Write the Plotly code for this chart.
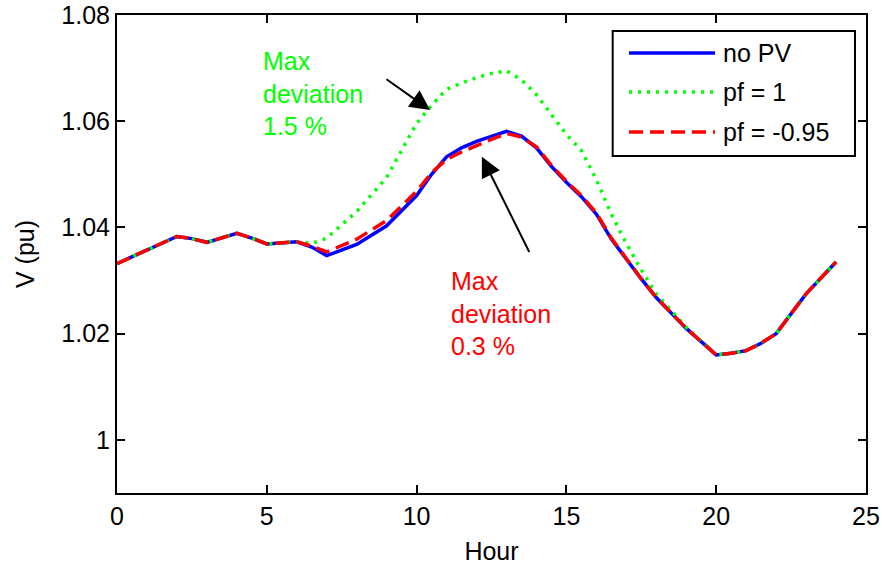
import plotly.graph_objects as go

# ---------------- data ----------------
hours = [0, 1, 2, 2.5, 3, 4, 4.5, 5, 5.5, 6,
         6.5, 7, 8, 9, 10,
         10.5, 11, 11.5, 12, 12.5,
         13, 13.5, 14, 14.5, 15,
         15.5, 16, 16.5, 17, 17.5,
         18, 19, 19.5, 20, 20.5,
         21, 21.5, 22, 23, 24]

v_nopv = [1.0332, 1.0358, 1.0383, 1.0379, 1.0372, 1.0389, 1.0380, 1.0369, 1.0371, 1.0373,
          1.0363, 1.0347, 1.0368, 1.0403, 1.0460,
          1.0500, 1.0533, 1.0550, 1.0562, 1.0572,
          1.0581, 1.0572, 1.0550, 1.0515, 1.0485,
          1.0458, 1.0425, 1.0378, 1.0340, 1.0303,
          1.0268, 1.0210, 1.0185, 1.0160, 1.0163,
          1.0168, 1.0182, 1.0200, 1.0275, 1.0335]

v_pf1 = [1.0332, 1.0358, 1.0383, 1.0379, 1.0372, 1.0389, 1.0380, 1.0369, 1.0371, 1.0373,
         1.0370, 1.0380, 1.0430, 1.0494, 1.0596,
         1.0630, 1.0660, 1.0672, 1.0682, 1.0690,
         1.0695, 1.0678, 1.0650, 1.0612, 1.0575,
         1.0545, 1.0490, 1.0425, 1.0370, 1.0320,
         1.0275, 1.0212, 1.0185, 1.0160, 1.0163,
         1.0168, 1.0182, 1.0200, 1.0275, 1.0335]

v_pf095 = [1.0332, 1.0358, 1.0383, 1.0379, 1.0372, 1.0389, 1.0380, 1.0369, 1.0371, 1.0373,
           1.0365, 1.0354, 1.0378, 1.0413, 1.0468,
           1.0503, 1.0528, 1.0542, 1.0554, 1.0565,
           1.0577, 1.0570, 1.0552, 1.0517, 1.0487,
           1.0460, 1.0427, 1.0380, 1.0342, 1.0303,
           1.0268, 1.0210, 1.0185, 1.0160, 1.0163,
           1.0168, 1.0182, 1.0200, 1.0275, 1.0335]

series_names = ["no PV", "pf = 1", "pf = -0.95"]

x_ticks = [0, 5, 10, 15, 20, 25]
x_ticktext = ["0", "5", "10", "15", "20", "25"]
y_ticks = [1.0, 1.02, 1.04, 1.06, 1.08]
y_ticktext = ["1", "1.02", "1.04", "1.06", "1.08"]

x_label = "Hour"
y_label = "V (pu)"

note_pf1 = "Max<br>deviation<br>1.5 %"
note_pf095 = "Max<br>deviation<br>0.3 %"

# ---------------- styles ----------------
FONT = "Liberation Sans, Arial, Helvetica, sans-serif"
FS = 25
BLUE = "rgb(0,0,255)"
GREEN = "rgb(0,255,0)"
RED = "rgb(255,0,0)"
styles = [
    dict(color=BLUE, width=3.5, dash="solid"),
    dict(color=GREEN, width=3.5, dash="3px,6px"),
    dict(color=RED, width=3.5, dash="14px,7px"),
]

fig = go.Figure()
for name, vals, st in zip(series_names, [v_nopv, v_pf1, v_pf095], styles):
    fig.add_trace(go.Scatter(x=hours, y=vals, mode="lines", name=name,
                             line=st, showlegend=False))

axis_common = dict(
    showline=True, linewidth=2, linecolor="black", mirror="ticks",
    ticks="inside", ticklen=8, tickwidth=2, tickcolor="black",
    showgrid=False, zeroline=False, automargin=False,
    tickfont=dict(family=FONT, size=FS, color="black"),
)

fig.update_xaxes(range=[0, 25], tickvals=x_ticks, ticktext=x_ticktext,
                 title=dict(text=x_label, font=dict(family=FONT, size=FS), standoff=16),
                 **axis_common)
fig.update_yaxes(range=[0.99, 1.08], tickvals=y_ticks, ticktext=y_ticktext,
                 title=dict(text=y_label, font=dict(family=FONT, size=FS), standoff=20),
                 **axis_common)

annotations = []
# text notes
annotations.append(dict(x=4.8, y=1.0744, xref="x", yref="y", text=note_pf1,
                        showarrow=False, xanchor="left", yanchor="top", align="left",
                        font=dict(family=FONT, size=FS, color=GREEN)))
annotations.append(dict(x=11.08, y=1.0330, xref="x", yref="y", text=note_pf095,
                        showarrow=False, xanchor="left", yanchor="top", align="left",
                        font=dict(family=FONT, size=FS, color=RED)))
# arrows
annotations.append(dict(x=10.45, y=1.0621, ax=8.945, ay=1.0681, xref="x", yref="y",
                        axref="x", ayref="y", text="", showarrow=True, arrowhead=2,
                        arrowsize=2.0, arrowwidth=2, arrowcolor="black", standoff=0))
annotations.append(dict(x=12.18, y=1.0533, ax=13.785, ay=1.0351, xref="x", yref="y",
                        axref="x", ayref="y", text="", showarrow=True, arrowhead=2,
                        arrowsize=2.0, arrowwidth=2, arrowcolor="black", standoff=0))

# custom legend (paper coordinates)
shapes = [dict(type="rect", xref="paper", yref="paper", x0=0.6618, x1=0.9853,
               y0=0.7050, y1=0.9665, line=dict(color="black", width=2),
               fillcolor="white", layer="above")]
row_y = [0.9205, 0.8389, 0.7552]
for name, st, yy in zip(series_names, styles, row_y):
    shapes.append(dict(type="line", xref="paper", yref="paper", x0=0.6836, x1=0.7984,
                       y0=yy, y1=yy, line=st, layer="above"))
    annotations.append(dict(x=0.806, y=yy, xref="paper", yref="paper", text=name,
                            showarrow=False, xanchor="left", yanchor="middle",
                            font=dict(family=FONT, size=FS, color="black")))

fig.update_layout(
    width=882, height=565,
    margin=dict(l=117, r=16, t=15, b=72),
    plot_bgcolor="white", paper_bgcolor="white",
    font=dict(family=FONT, size=FS, color="black"),
    showlegend=False,
    annotations=annotations,
    shapes=shapes,
)

fig.write_html("out.html",
               config={"displayModeBar": False},
               post_script="document.body.style.margin='0';document.body.style.overflow='hidden';")
